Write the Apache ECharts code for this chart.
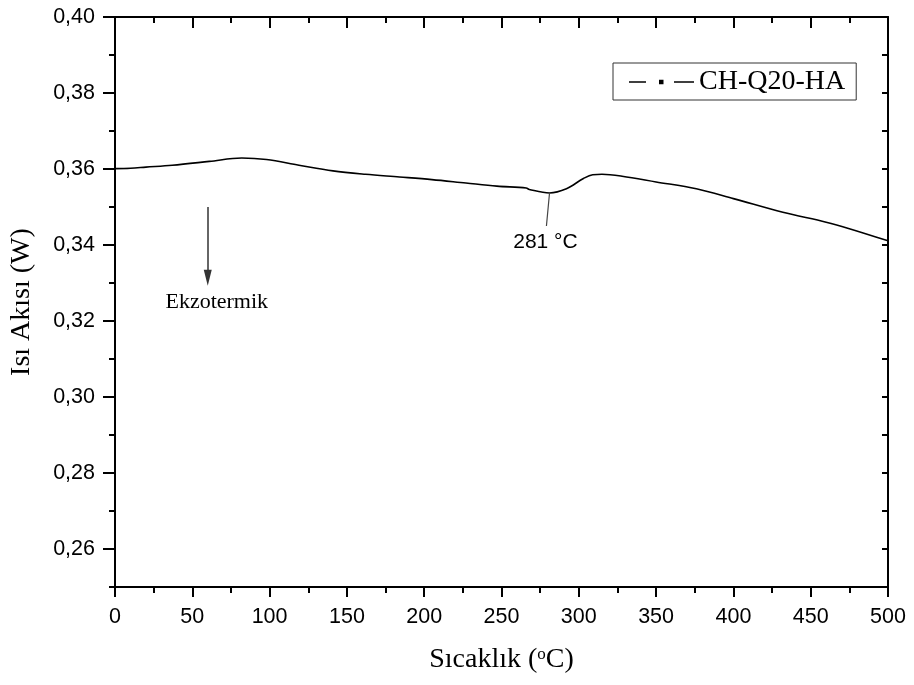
<!DOCTYPE html>
<html>
<head>
<meta charset="utf-8">
<script src="https://cdn.jsdelivr.net/npm/echarts@6/dist/echarts.min.js"></script>
<style>
  html, body { margin: 0; padding: 0; background: #fff; }
  #chart { width: 914px; height: 685px; }
</style>
</head>
<body>
<div id="chart"></div>
<script>
// DSC curve of CH-Q20-HA: heat flow versus temperature
const temps = [0, 10, 20, 37, 61, 82, 98, 119, 141, 162, 184, 205, 227, 247, 266, 268, 281, 292, 303, 309, 315, 328, 350, 376, 400, 432, 460, 475, 500];
const flux  = [0.3601, 0.3602, 0.3605, 0.3610, 0.3620, 0.3629, 0.3625, 0.3610, 0.3595, 0.3586, 0.3579, 0.3572, 0.3563, 0.3555, 0.3550, 0.3546, 0.3537, 0.3548, 0.3575, 0.3585, 0.3586, 0.3581, 0.3566, 0.3548, 0.3522, 0.3486, 0.3460, 0.3443, 0.3411];

const seriesName = 'CH-Q20-HA';
const yMajorTicks = [0.26, 0.28, 0.30, 0.32, 0.34, 0.36, 0.38, 0.40];
const peakTemp = 281;
const peakLabel = '281 °C';
const exoLabel = 'Ekzotermik';
const exoArrow = [[60, 0.3500], [60, 0.3314]];

const SANS = 'Liberation Sans';
const SERIF = 'Liberation Serif';
const AXIS_COLOR = '#000';

const points = temps.map((t, i) => [t, flux[i]]);
const fmtComma = v => v.toFixed(2).replace('.', ',');

const chart = echarts.init(document.getElementById('chart'), null, { renderer: 'canvas' });

const baseY = {
  type: 'value', min: 0.25, max: 0.40,
  splitLine: { show: false }
};

chart.setOption({
  animation: false,
  backgroundColor: '#fff',
  grid: { left: 115, right: 26, top: 17, bottom: 98, containLabel: false },
  legend: {
    left: 613, top: 63,
    padding: [5, 11, 4, 16],
    borderColor: '#333', borderWidth: 1,
    itemWidth: 65, itemHeight: 4.5,
    icon: 'path://M0,1.5H17V3H0Z M30,0H34.5V4.5H30Z M45,1.5H65V3H45Z',
    textStyle: { fontFamily: SERIF, fontSize: 28, color: '#000' },
    data: [seriesName]
  },
  xAxis: [
    {
      type: 'value', position: 'bottom', min: 0, max: 500, interval: 50,
      axisLine: { show: true, onZero: false, lineStyle: { color: AXIS_COLOR, width: 2 } },
      axisTick: { show: true, inside: false, length: 10, lineStyle: { width: 2 } },
      minorTick: { show: true, splitNumber: 2, length: 6, lineStyle: { color: AXIS_COLOR, width: 2 } },
      axisLabel: { fontFamily: SANS, fontSize: 21.5, color: '#000', margin: 19 },
      splitLine: { show: false },
      name: 'Sıcaklık ({sup|o}C)',
      nameLocation: 'middle', nameGap: 59,
      nameTextStyle: {
        fontFamily: SERIF, fontSize: 28, color: '#000',
        rich: { sup: { fontFamily: SERIF, fontSize: 17, verticalAlign: 'top', color: '#000' } }
      }
    },
    {
      type: 'value', position: 'top', min: 0, max: 500, interval: 50,
      axisLine: { show: true, onZero: false, lineStyle: { color: AXIS_COLOR, width: 2 } },
      axisTick: { show: true, inside: true, length: 11, lineStyle: { width: 2 } },
      minorTick: { show: true, splitNumber: 2, length: 6, lineStyle: { color: AXIS_COLOR, width: 2 } },
      axisLabel: { show: false },
      splitLine: { show: false }
    }
  ],
  yAxis: [
    Object.assign({}, baseY, {
      position: 'left', interval: 0.01,
      axisLine: { show: true, onZero: false, lineStyle: { color: AXIS_COLOR, width: 2 } },
      axisTick: { show: true, inside: false, length: 6, lineStyle: { width: 2 } },
      axisLabel: {
        fontFamily: SANS, fontSize: 21.5, color: '#000', margin: 20,
        formatter: v => (Math.round(v * 100) % 2 === 0 ? fmtComma(v) : '')
      },
      name: 'Isı Akısı (W)',
      nameLocation: 'middle', nameGap: 79, nameRotate: 90,
      nameTextStyle: { fontFamily: SERIF, fontSize: 28, color: '#000' }
    }),
    Object.assign({}, baseY, {
      position: 'left',
      axisLine: { show: false },
      axisTick: { show: true, inside: false, length: 12, customValues: yMajorTicks, lineStyle: { color: AXIS_COLOR, width: 2 } },
      axisLabel: { show: false }
    }),
    Object.assign({}, baseY, {
      position: 'right', interval: 0.01,
      axisLine: { show: true, onZero: false, lineStyle: { color: AXIS_COLOR, width: 2 } },
      axisTick: { show: true, inside: true, length: 6, lineStyle: { width: 2 } },
      axisLabel: { show: false }
    }),
    Object.assign({}, baseY, {
      position: 'right',
      axisLine: { show: false },
      axisTick: { show: true, inside: true, length: 12, customValues: yMajorTicks, lineStyle: { color: AXIS_COLOR, width: 2 } },
      axisLabel: { show: false }
    })
  ],
  series: [
    {
      name: seriesName,
      type: 'line',
      xAxisIndex: 0, yAxisIndex: 0,
      data: points,
      smooth: 0.35,
      showSymbol: false,
      color: '#000',
      itemStyle: { color: '#000' },
      lineStyle: { color: '#000', width: 1.6 },
      markLine: {
        silent: true,
        symbol: ['none', 'triangle'],
        symbolSize: [8, 16],
        label: { show: false },
        lineStyle: { color: '#333', width: 1.5, type: 'solid' },
        data: [[{ coord: exoArrow[0] }, { coord: exoArrow[1] }]]
      }
    }
  ]
});

// Leader line and label for the endothermic minimum, plus the exotherm direction label
const peakIdx = temps.indexOf(peakTemp);
const pk = chart.convertToPixel({ xAxisIndex: 0, yAxisIndex: 0 }, [peakTemp, flux[peakIdx]]);
const arrowEnd = chart.convertToPixel({ xAxisIndex: 0, yAxisIndex: 0 }, exoArrow[1]);

chart.setOption({
  graphic: [
    {
      type: 'line', silent: true,
      shape: { x1: pk[0], y1: pk[1] + 1, x2: pk[0] - 3, y2: pk[1] + 33 },
      style: { stroke: '#444', lineWidth: 1.2 }
    },
    {
      type: 'text', silent: true,
      x: pk[0] - 4, y: pk[1] + 49,
      style: { text: peakLabel, fontFamily: SANS, fontSize: 21, fill: '#000', align: 'center', verticalAlign: 'middle' }
    },
    {
      type: 'text', silent: true,
      x: arrowEnd[0] + 9, y: arrowEnd[1] + 25,
      style: { text: exoLabel, fontFamily: SERIF, fontSize: 22, fill: '#000', align: 'center', verticalAlign: 'middle' }
    }
  ]
});
</script>
</body>
</html>
